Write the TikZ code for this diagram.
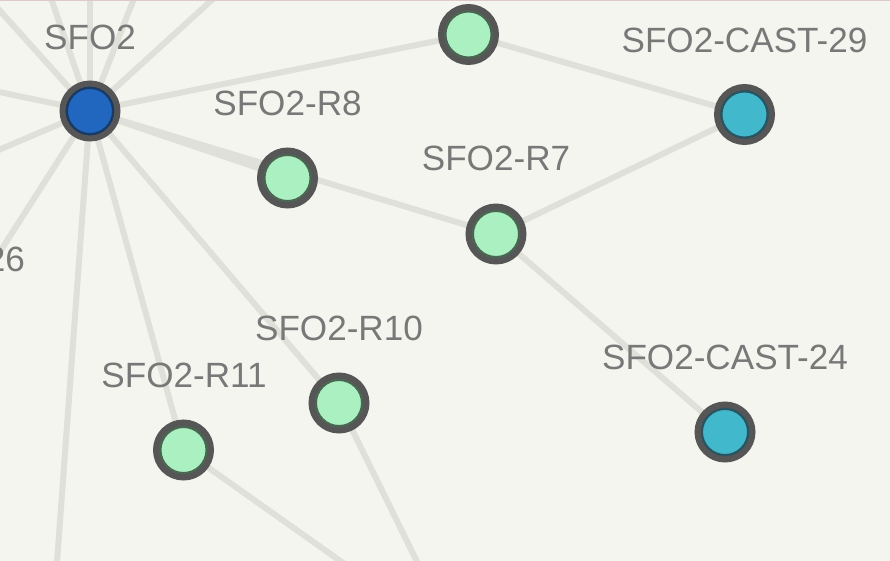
\documentclass[tikz,border=0pt]{standalone}
\usepackage{fontspec}
\setmainfont{Liberation Sans}
\definecolor{bgc}{HTML}{F5F5F0}
\definecolor{edgec}{HTML}{E0E0DA}
\definecolor{bordc}{HTML}{565656}
\definecolor{lblc}{HTML}{787878}
\definecolor{bluef}{HTML}{2166BF}
\definecolor{bluer}{HTML}{1A3A66}
\definecolor{greenf}{HTML}{AAF0C0}
\definecolor{greenr}{HTML}{4A6652}
\definecolor{cyanf}{HTML}{42B8CC}
\definecolor{cyanr}{HTML}{2A5560}
\definecolor{topc}{HTML}{DCCACA}
\tikzset{
  edge/.style={line width=6pt, color=edgec},
  nd/.style={circle, minimum size=55pt, inner sep=0pt, line width=6pt, draw=bordc},
  ring/.style={path picture={\draw[line width=3pt,#1] (path picture bounding box.center) circle (23.5pt);}},
  bluend/.style={nd, fill=bluef, ring=bluer},
  greennd/.style={nd, fill=greenf, ring=greenr},
  cyannd/.style={nd, fill=cyanf, ring=cyanr},
  lbl/.style={inner sep=0pt, text=lblc, font=\fontsize{35.1}{40}\selectfont}
}
\begin{document}
\begin{tikzpicture}[x=1pt,y=-1pt]
\useasboundingbox (0,0) rectangle (890,561);
\fill[bgc] (0,0) rectangle (890,561);
\begin{scope}
\clip (0,0) rectangle (890,561);
% node positions
\coordinate (psfo2) at (90,111);
\coordinate (ptop) at (468.5,34.5);
\coordinate (pc29) at (744.5,114.5);
\coordinate (pr8) at (287.5,178);
\coordinate (pr7) at (496,234);
\coordinate (pr10) at (339,403);
\coordinate (pr11) at (183.5,450);
\coordinate (pc24) at (725,432);
% off-screen ends
\coordinate (o1) at (-42,-36);
\coordinate (o2) at (44,-22);
\coordinate (o3) at (90,-22);
\coordinate (o4) at (142,-22);
\coordinate (o5) at (236,-22);
\coordinate (o6) at (-20,88);
\coordinate (o7) at (-20,158);
\coordinate (o8) at (-20,283);
\coordinate (o9) at (55,590);
\coordinate (o10) at (370,582);
\coordinate (o11) at (428,584);
% edges
\foreach \e in {o1,o2,o3,o4,o5,o6,o7,o8,o9,pr11,pr10,pr8,pr7,ptop}
  \draw[edge] (psfo2) -- (\e);
\draw[edge] (pr11) -- (o10);
\draw[edge] (pr10) -- (o11);
\draw[edge] (ptop) -- (pc29);
\draw[edge] (pr7) -- (pc29);
\draw[edge] (pr7) -- (pc24);
% nodes
\node[bluend] (sfo2) at (psfo2) {};
\node[greennd] (top) at (ptop) {};
\node[cyannd] (c29) at (pc29) {};
\node[greennd] (r8) at (pr8) {};
\node[greennd] (r7) at (pr7) {};
\node[greennd] (r10) at (pr10) {};
\node[greennd] (r11) at (pr11) {};
\node[cyannd] (c24) at (pc24) {};
% labels
\node[lbl, anchor=base] (lsfo2) at (90,49.5) {SFO2};
\node[lbl, anchor=base] (lc29) at (744.5,52.5) {SFO2-CAST-29};
\node[lbl, anchor=base] (lr8) at (287.5,115.5) {SFO2-R8};
\node[lbl, anchor=base] (lr7) at (496,171) {SFO2-R7};
\node[lbl, anchor=base] (lr10) at (339,340) {SFO2-R10};
\node[lbl, anchor=base] (lr11) at (184,387) {SFO2-R11};
\node[lbl, anchor=base] (lc24) at (725,369) {SFO2-CAST-24};
\node[lbl, anchor=base east] (l26) at (25,271) {26};
\end{scope}
\draw[topc, line width=1.5pt] (0,0.75) -- (890,0.75);
\end{tikzpicture}
\end{document}
